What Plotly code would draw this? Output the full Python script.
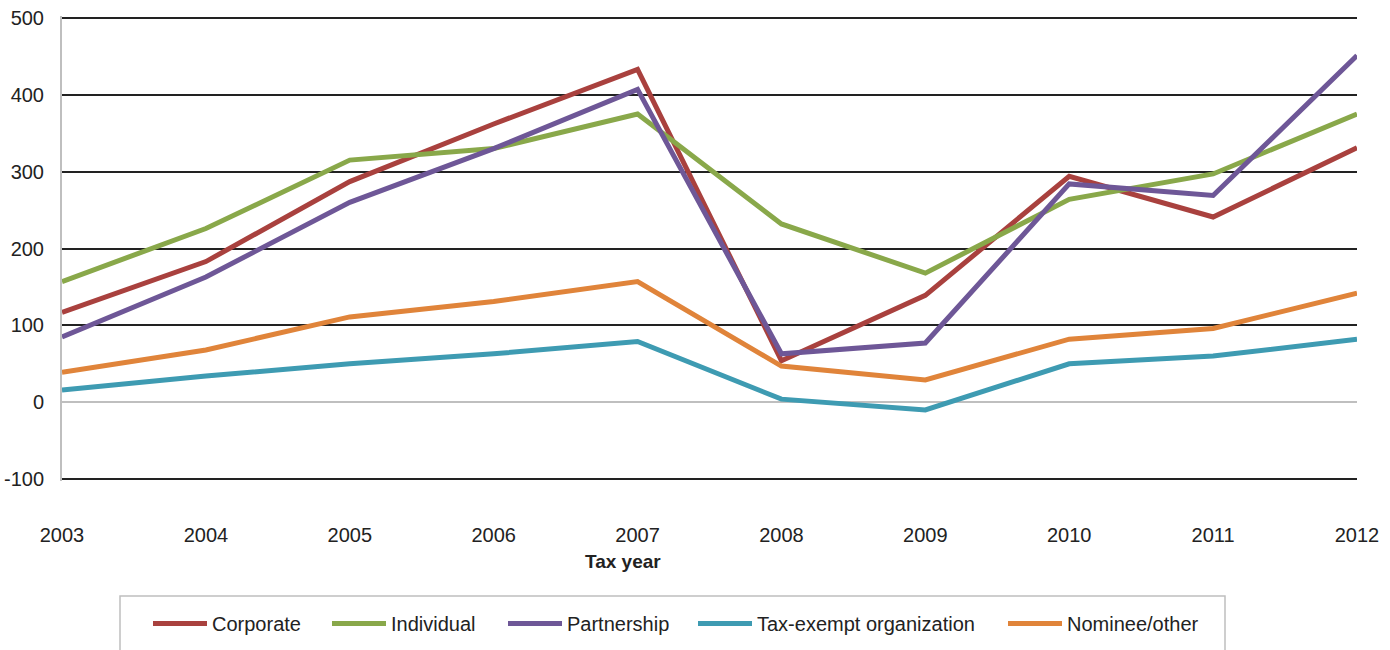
import plotly.graph_objects as go

years = [2003, 2004, 2005, 2006, 2007, 2008, 2009, 2010, 2011, 2012]
corporate = [117, 183, 287, 362, 433, 54, 139, 294, 241, 331]
individual = [157, 226, 315, 330, 375, 232, 168, 264, 297, 375]
partnership = [85, 163, 260, 330, 407, 63, 77, 284, 269, 451]
tax_exempt = [16, 34, 50, 63, 79, 4, -10, 50, 60, 82]
nominee = [39, 68, 111, 131, 157, 47, 29, 82, 96, 142]

y_ticks = [-100, 0, 100, 200, 300, 400, 500]
y_ticktext = ["-100", "0", "100", "200", "300", "400", "500"]

series = [
    ("Corporate", corporate, "#A9413E"),
    ("Individual", individual, "#89A84A"),
    ("Partnership", partnership, "#6E5797"),
    ("Tax-exempt organization", tax_exempt, "#3E9BB2"),
    ("Nominee/other", nominee, "#E0843A"),
]

PL, PR, PT, PB = 62, 1357, 16, 481   # plot box in page pixels
W, H = PR - PL, PB - PT

def px_x(p):
    return (p - PL) / W

def px_y(p):
    return (PB - p) / H

font = dict(family="Liberation Sans, Arial, sans-serif", size=20, color="#222222")

legend_starts = [154, 333, 509, 699, 1009]
legend_names = ["legend", "legend2", "legend3", "legend4", "legend5"]

fig = go.Figure()
for (name, vals, col), lg in zip(series, legend_names):
    fig.add_trace(go.Scatter(x=years, y=vals, mode="lines", name=name, legend=lg,
                             line=dict(color=col, width=5)))

layout_legends = {}
for lg, sx in zip(legend_names, legend_starts):
    layout_legends[lg] = dict(orientation="h", x=px_x(sx - 6), xanchor="left",
                              y=px_y(604), yanchor="top", font=font, itemwidth=54,
                              bgcolor="rgba(0,0,0,0)", borderwidth=0)

fig.update_layout(
    width=1390, height=650,
    margin=dict(l=PL, r=1390 - PR, t=PT, b=650 - PB, autoexpand=False),
    paper_bgcolor="white", plot_bgcolor="white",
    font=font,
    showlegend=True,
    xaxis=dict(range=[2003, 2012], tickvals=years, ticktext=[str(y) for y in years],
               showgrid=False, zeroline=False, showline=False, ticks="",
               ticklabelstandoff=40, tickfont=font),
    yaxis=dict(range=[-102.5, 502.5], tickvals=y_ticks, ticktext=y_ticktext,
               showgrid=True, gridcolor="#222222",
               gridwidth=1.5, zeroline=True, zerolinecolor="#BFBFBF", zerolinewidth=2,
               showline=True, linecolor="#BFBFBF", linewidth=2, ticks="",
               ticklabelstandoff=12, tickfont=font, ticklabeloverflow="allow"),
    shapes=[dict(type="rect", xref="paper", yref="paper",
                 x0=px_x(120), x1=px_x(1225), y0=px_y(662), y1=px_y(596),
                 line=dict(color="#BFBFBF", width=1.5), fillcolor="rgba(0,0,0,0)")],
    annotations=[dict(text="<b>Tax year</b>", xref="paper", yref="paper",
                      x=px_x(623), y=px_y(561), xanchor="center",
                      yanchor="middle", showarrow=False,
                      font=dict(family="Liberation Sans, Arial, sans-serif", size=19, color="#222222"))],
    **layout_legends,
)

fig.write_html("out.html", config={"displayModeBar": False},
               post_script="document.body.style.margin='0';")
